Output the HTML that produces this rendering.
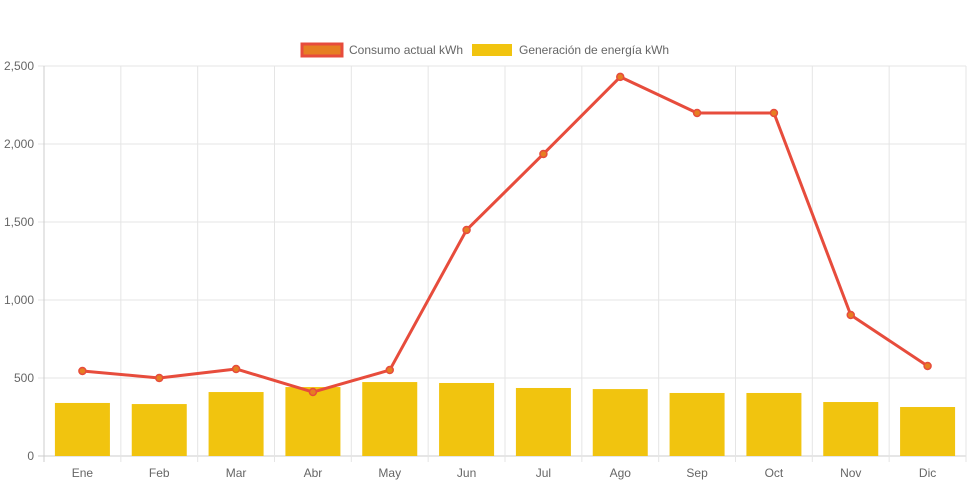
<!DOCTYPE html>
<html><head><meta charset="utf-8"><style>
body{margin:0;background:#fff;font-family:"Liberation Sans",sans-serif;}
svg text{font-family:"Liberation Sans",sans-serif;font-size:12px;fill:#666;}
</style></head><body>
<svg id="chart" width="971" height="485" xmlns="http://www.w3.org/2000/svg"></svg>
<script>
const categories=["Ene","Feb","Mar","Abr","May","Jun","Jul","Ago","Sep","Oct","Nov","Dic"];
const consumo=[545,500,558,410,551,1449,1936,2430,2199,2199,904,577];
const generacion=[340,333,410,442,474,468,436,429,404,404,346,314];
const yTicks=[0,500,1000,1500,2000,2500];
const yLabels=["0","500","1,000","1,500","2,000","2,500"];
const svg=document.getElementById('chart');
const NS="http://www.w3.org/2000/svg";
const L=44,R=966,T=66,B=456,yMax=2500;
const step=(R-L)/categories.length;
function x(i){return L+step*(i+0.5);}
function y(v){return B-(v/yMax)*(B-T);}
function mk(tag,attrs,parent){const e=document.createElementNS(NS,tag);for(const k in attrs)e.setAttribute(k,attrs[k]);(parent||svg).appendChild(e);return e;}
// grid
yTicks.forEach((v,i)=>{
  const g=mk('line',{x1:L-6,x2:R,y1:y(v),y2:y(v),stroke:v===0?'#ccc':'#e5e5e5','stroke-width':1});
  
  
  const t=mk('text',{x:L-10,y:y(v)+4,'text-anchor':'end'});t.textContent=yLabels[i];
  
  
});
for(let i=0;i<=categories.length;i++){
  const g=mk('line',{x1:L+step*i,x2:L+step*i,y1:T,y2:B+6,stroke:i===0?'#ccc':'#e5e5e5','stroke-width':1});
  
  
}
categories.forEach((c,i)=>{
  const t=mk('text',{x:x(i),y:B+21,'text-anchor':'middle'});t.textContent=c;
  
  
});
// bars
const bw=55;
generacion.forEach((v,i)=>{
  const r=mk('rect',{x:x(i)-bw/2,y:y(v),width:bw,height:B-y(v),fill:'#f1c40f'});
  
  
});
// line
const p=mk('polyline',{points:consumo.map((v,i)=>x(i)+','+y(v)).join(' '),fill:'none',stroke:'#e74c3c','stroke-width':3,'stroke-linejoin':'round'});


consumo.forEach((v,i)=>{
  const c=mk('circle',{cx:x(i),cy:y(v),r:3.5,fill:'#e67e22',stroke:'#e74c3c','stroke-width':1.5});
  
  
});
// legend
const lg=mk('g',{});


const r1=mk('rect',{x:302,y:44,width:40,height:12,fill:'#e67e22',stroke:'#e74c3c','stroke-width':3},lg);


const t1=mk('text',{x:349,y:54},lg);t1.textContent='Consumo actual kWh';


const r2=mk('rect',{x:472,y:44,width:40,height:12,fill:'#f1c40f'},lg);


const t2=mk('text',{x:519,y:54},lg);t2.textContent='Generación de energía kWh';


</script>
</body></html>
